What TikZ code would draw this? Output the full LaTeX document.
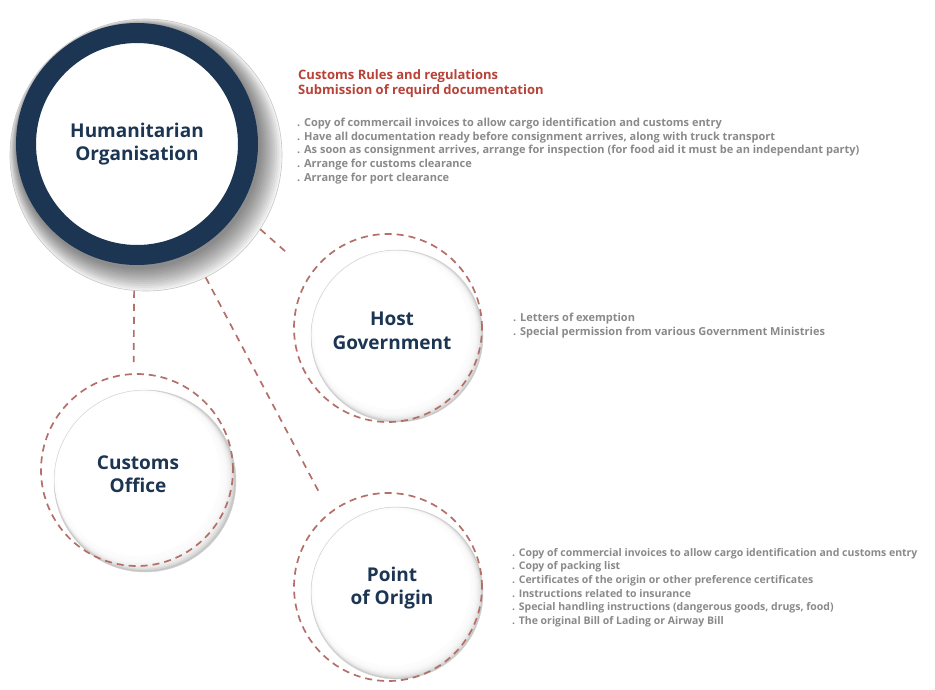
\documentclass[tikz,border=0pt]{standalone}
\usepackage{fontspec}
\setmainfont{Open Sans}
\usepackage{tikz}
\usetikzlibrary{calc}
\definecolor{Navy_ring}{RGB}{27, 53, 82}
\definecolor{Dash_red}{RGB}{180, 112, 104}
\definecolor{Note_grey}{RGB}{138, 138, 138}
\definecolor{Head_red}{RGB}{184, 66, 56}
\tikzset{
    dash ring/.style={circle, draw=Dash_red, line width=1.7pt, dash pattern=on 7pt off 5pt, inner sep=0pt},
    link/.style={draw=Dash_red, line width=1.7pt, dash pattern=on 7pt off 6pt},
    disc label/.style={font=\fontsize{19}{23.5}\selectfont\bfseries, text=Navy_ring, align=center, inner sep=0pt},
    notes/.style={font=\fontsize{11}{13.6}\selectfont\bfseries, text=Note_grey, align=left, anchor=north west, inner sep=0pt},
    heads/.style={font=\fontsize{13}{15.5}\selectfont\bfseries, text=Head_red, align=left, anchor=north west, inner sep=0pt}
}

\begin{document}
\begin{tikzpicture}[x=1pt, y=-1pt]
    %% Background
    \fill[white] (0,0) rectangle (935,689);
    \useasboundingbox (0,0) rectangle (935,689);

    %% Humanitarian Organisation
    \fill[gray!8] (146,155) circle (136);
    \foreach \k in {1,...,12}
        \fill[black, opacity=0.045] ({138+0.6*\k},{146+0.7*\k}) circle ({121+1.2*\k});
    \node[circle, draw=gray!45, line width=0.6pt, minimum size=272pt, inner sep=0pt] (hubshadow) at (146,155) {};
    \node[circle, draw=Navy_ring, line width=20pt, fill=white, minimum size=222pt, disc label] (hub) at (137,144) {Humanitarian\\Organisation};

    %% Host Government
    \fill[gray!45] (397,336) circle (86);
    \foreach \k in {0,...,9}
        \fill[white, opacity=0.3] ({392+0.5*\k},{331+0.5*\k}) circle ({80+0.6*\k});
    \fill[white] (392,331) circle (78);
    \draw[gray!35, line width=0.5pt] (397,336) circle (86);
    \node[disc label] (host) at (392,331) {Host\\Government};
    \node[dash ring, minimum size=188pt] (hostring) at (388,328) {};

    %% Customs Office
    \fill[gray!45] (145,481) circle (91);
    \foreach \k in {0,...,9}
        \fill[white, opacity=0.3] ({138+0.7*\k},{474+0.7*\k}) circle ({84+0.65*\k});
    \fill[white] (138,474) circle (82);
    \draw[gray!35, line width=0.5pt] (145,481) circle (91);
    \node[disc label] (customs) at (138,474) {Customs\\Office};
    \node[dash ring, minimum size=192pt] (custring) at (137,470) {};

    %% Point of Origin
    \fill[gray!45] (397,593) circle (86);
    \foreach \k in {0,...,9}
        \fill[white, opacity=0.3] ({392+0.5*\k},{588+0.5*\k}) circle ({80+0.6*\k});
    \fill[white] (392,588) circle (78);
    \draw[gray!35, line width=0.5pt] (397,593) circle (86);
    \node[disc label] (origin) at (392,588) {Point\\of Origin};
    \node[dash ring, minimum size=188pt] (originring) at (388,587) {};

    %% Links
    \draw[link, shorten >=11pt] (hubshadow.-95) -- (custring.92);
    \draw[link, shorten >=28pt] (hubshadow.-33) -- (hostring.145);
    \draw[link, shorten >=19pt] (hubshadow.-64) -- (originring.128);

    %% Notes
    \node[heads] (rules) at (298,69) {Customs Rules and regulations\\Submission of requird documentation};
    \node[notes] (hubnotes) at (297,118) {. Copy of commercail invoices to allow cargo identification and customs entry\\
        . Have all documentation ready before consignment arrives, along with truck transport\\
        . As soon as consignment arrives, arrange for inspection (for food aid it must be an independant party)\\
        . Arrange for customs clearance\\
        . Arrange for port clearance};
    \node[notes] (hostnotes) at (513,313) {. Letters of exemption\\
        . Special permission from various Government Ministries};
    \node[notes, font=\fontsize{10.5}{13.6}\selectfont\bfseries] (originnotes) at (512,548) {. Copy of commercial invoices to allow cargo identification and customs entry\\
        . Copy of packing list\\
        . Certificates of the origin or other preference certificates\\
        . Instructions related to insurance\\
        . Special handling instructions (dangerous goods, drugs, food)\\
        . The original Bill of Lading or Airway Bill};
\end{tikzpicture}
\end{document}
